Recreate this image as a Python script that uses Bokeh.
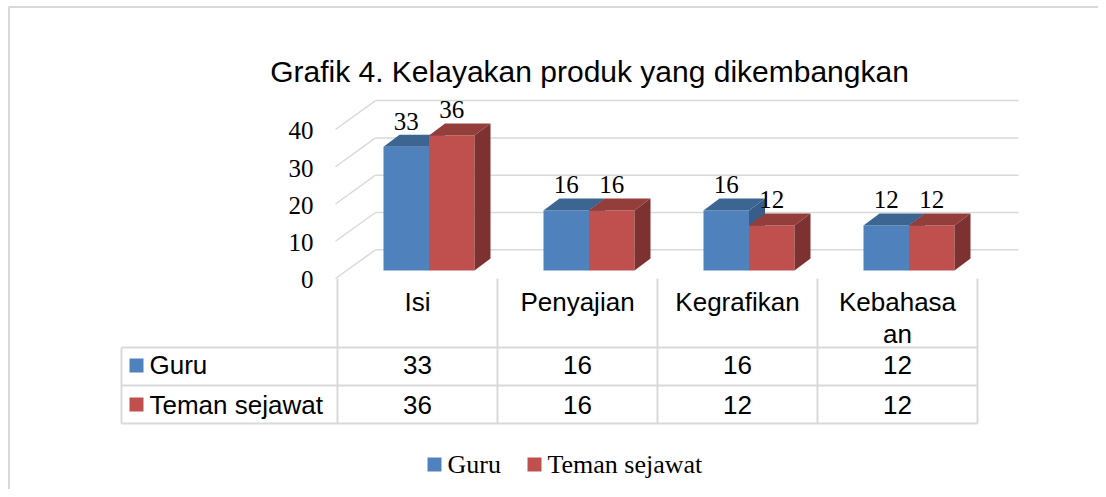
from bokeh.plotting import figure
from bokeh.models import Range1d
from bokeh.embed import file_html
from bokeh.resources import INLINE
from bokeh.core.properties import value

# ---------------- data ----------------
title_text = "Grafik 4. Kelayakan produk yang dikembangkan"
categories = ["Isi", "Penyajian", "Kegrafikan", "Kebahasaan"]
header_lines = [["Isi"], ["Penyajian"], ["Kegrafikan"], ["Kebahasa", "an"]]
series_names = ["Guru", "Teman sejawat"]
guru = [33, 16, 16, 12]
teman = [36, 16, 12, 12]
y_ticks = [0, 10, 20, 30, 40]

# ---------------- layout helpers (page px -> data units) ----------------
W, H = 1098, 489
OX, OY = 0, 0              # canvas origin on the page
X0, XS = 417.0, 160.0      # first column centre (px), column width (px)
Y0, YS = 270.0, 3.75       # bar base (px), px per value unit
TS = 0.31                  # baseline correction (fraction of font size)


def dx(px):
    return (px - X0) / XS


def dy(py):
    return (Y0 - py) / YS


def tb(py, fs):
    """baseline pixel -> data y, corrected for rendering offset"""
    return dy(py - TS * fs)


p = figure(width=W, height=H, x_range=Range1d(dx(OX), dx(OX + W)),
           y_range=Range1d(dy(OY + H), dy(OY)), x_axis_type=None, y_axis_type=None,
           toolbar_location=None, output_backend="svg", min_border=0,
           outline_line_color=None, background_fill_color="white",
           border_fill_color="white")
p.grid.visible = False

SERIF = value("Liberation Serif")
SANS = value("Liberation Sans")
GRID = "#D9D9D9"

# outer chart border (top and left visible)
p.segment(x0=[dx(8), dx(8.5)], y0=[dy(6.5), dy(6.5)], x1=[dx(OX + W), dx(8.5)], y1=[dy(6.5), dy(OY + H)],
          line_color=GRID, line_width=2)

# ---------------- back wall gridlines + left wall diagonals ----------------
kb = 3.73 / YS
kf = 3.725 / YS
back_y = [dy(249.3) + t * kb for t in y_ticks]
front_y = [dy(278.0) + t * kf for t in y_ticks]
p.segment(x0=[dx(375)] * len(y_ticks), y0=back_y, x1=[dx(1018)] * len(y_ticks), y1=back_y,
          line_color=GRID, line_width=1.5)
p.segment(x0=[dx(335)] * len(y_ticks), y0=front_y, x1=[dx(375)] * len(y_ticks), y1=back_y,
          line_color=GRID, line_width=1.5)

# y tick labels
p.text(x=[dx(313)] * len(y_ticks), y=[tb(287, 25) + t * kf for t in y_ticks],
       text=[str(t) for t in y_ticks], text_font=SERIF, text_font_size="25px",
       text_align="right", text_baseline="alphabetic", text_color="#000000")

# ---------------- 3D bars ----------------
bar_w = 45.5 / XS
depth_x = 16 / XS
depth_y = 12 / YS
styles = [
    dict(front="#4F81BD", top="#3D6592", side="#385D8A"),
    dict(front="#C0504D", top="#943E3C", side="#7D3231"),
]
for s, vals in enumerate([guru, teman]):
    st = styles[s]
    lefts = [i + (-34 + 45.5 * s) / XS for i in range(len(vals))]
    rights = [l + bar_w for l in lefts]
    p.quad(left=lefts, right=rights, bottom=[0] * len(vals), top=vals,
           fill_color=st["front"], line_color=None)
    p.patches(xs=[[l, r, r + depth_x, l + depth_x] for l, r in zip(lefts, rights)],
              ys=[[v, v, v + depth_y, v + depth_y] for v in vals],
              fill_color=st["top"], line_color=None)
    p.patches(xs=[[r, r + depth_x, r + depth_x, r] for r in rights],
              ys=[[v, v + depth_y, depth_y, 0] for v in vals],
              fill_color=st["side"], line_color=None)
    p.text(x=[(l + r) / 2 for l, r in zip(lefts, rights)],
           y=[v + (18 + TS * 25) / YS for v in vals],
           text=[str(v) for v in vals], text_font=SERIF, text_font_size="25px",
           text_align="center", text_baseline="alphabetic", text_color="#000000")

# ---------------- data table ----------------
col_edges = [dx(337 + 160 * k) for k in range(len(categories) + 1)]
row_lines = [dy(347), dy(385), dy(423)]
p.segment(x0=[dx(121)] * 3, y0=row_lines, x1=[col_edges[-1]] * 3, y1=row_lines,
          line_color=GRID, line_width=2)
p.segment(x0=col_edges, y0=[dy(278)] * len(col_edges), x1=col_edges, y1=[dy(423)] * len(col_edges),
          line_color=GRID, line_width=2)
p.segment(x0=[dx(121)], y0=[dy(347)], x1=[dx(121)], y1=[dy(423)], line_color=GRID, line_width=2)

hx, hy, ht = [], [], []
for i, lines in enumerate(header_lines):
    for j, ln in enumerate(lines):
        hx.append(i)
        hy.append(tb(310 + 32 * j, 26))
        ht.append(ln)
p.text(x=hx, y=hy, text=ht, text_font=SANS, text_font_size="26px",
       text_align="center", text_baseline="alphabetic", text_color="#000000")

for r, vals in enumerate([guru, teman]):
    base = tb(373 + 39.5 * r, 26)
    p.text(x=list(range(len(vals))), y=[base] * len(vals), text=[str(v) for v in vals],
           text_font=SANS, text_font_size="26px", text_align="center",
           text_baseline="alphabetic", text_color="#000000")
    p.scatter(x=[dx(136)], y=[dy(365 + 39 * r)], marker="square", size=14,
              fill_color=styles[r]["front"], line_color=None)
    p.text(x=[dx(149)], y=[base], text=[series_names[r]], text_font=SANS,
           text_font_size="26px", text_align="left", text_baseline="alphabetic",
           text_color="#000000")

# ---------------- legend ----------------
leg_sq = [434, 534]
leg_tx = [447, 547]
for r in range(2):
    p.scatter(x=[dx(leg_sq[r])], y=[dy(464)], marker="square", size=14,
              fill_color=styles[r]["front"], line_color=None)
    p.text(x=[dx(leg_tx[r])], y=[tb(472, 26)], text=[series_names[r]], text_font=SERIF,
           text_font_size="26px", text_align="left", text_baseline="alphabetic",
           text_color="#000000")

# ---------------- title ----------------
p.text(x=[dx(589)], y=[tb(80, 30)], text=[title_text], text_font=SANS, text_font_size="30px",
       text_align="center", text_baseline="alphabetic", text_color="#000000")

open("out.html", "w").write(file_html(p, INLINE))
